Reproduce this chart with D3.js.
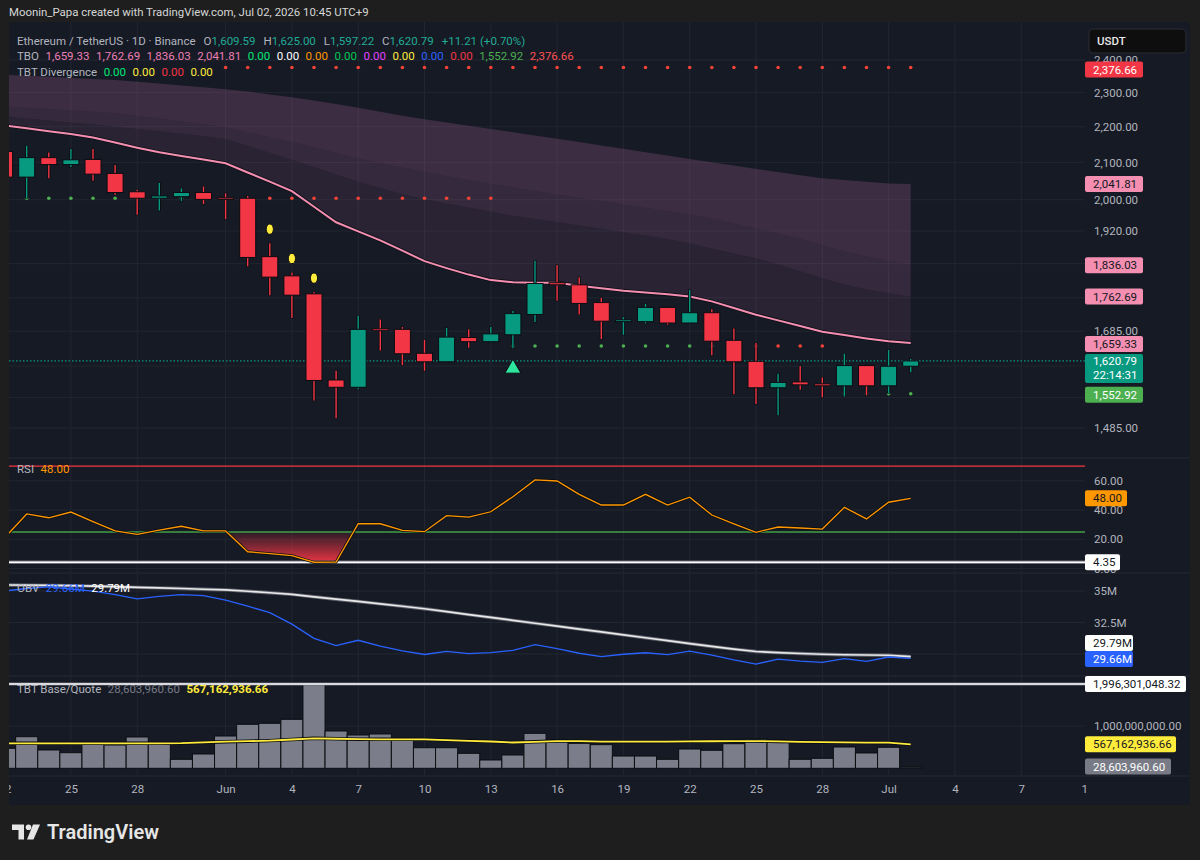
<!DOCTYPE html>
<html>
<head>
<meta charset="utf-8">
<script src="https://cdn.jsdelivr.net/npm/d3@7"></script>
<style>
  body { margin: 0; background: #1e1e1e; overflow: hidden; }
  text { font-family: Roboto, "Noto Sans", sans-serif; }
</style>
</head>
<body>
<script>
// ---- data ----
const dates = [
  '2026-05-22','2026-05-23','2026-05-24','2026-05-25','2026-05-26','2026-05-27','2026-05-28','2026-05-29','2026-05-30','2026-05-31',
  '2026-06-01','2026-06-02','2026-06-03','2026-06-04','2026-06-05','2026-06-06','2026-06-07','2026-06-08','2026-06-09','2026-06-10',
  '2026-06-11','2026-06-12','2026-06-13','2026-06-14','2026-06-15','2026-06-16','2026-06-17','2026-06-18','2026-06-19','2026-06-20',
  '2026-06-21','2026-06-22','2026-06-23','2026-06-24','2026-06-25','2026-06-26','2026-06-27','2026-06-28','2026-06-29','2026-06-30',
  '2026-07-01','2026-07-02'
];
const open  = [2130,2060,2113,2094,2108,2070,2021,2004,2008,2019, 2005,2004,1857,1811,1769,1581,1566,1690,1689,1637,
               1619,1671,1662,1677,1722,1795,1790,1749,1706,1706, 1738,1703,1726,1665,1620,1565,1577,1573,1569,1611, 1569,1609.59];
const high  = [2142,2146,2127,2137,2137,2093,2026,2044,2030,2035, 2017,2010,1890,1819,1773,1600,1719,1711,1694,1666,
               1692,1689,1694,1730,1847,1837,1808,1760,1716,1746, 1739,1778,1734,1691,1659,1594,1610,1586,1636,1612, 1644,1625.00];
const low   = [2050,2004,2057,2087,2050,2013,1961,1972,1997,1989, 1950,1834,1766,1714,1539,1504,1562,1643,1612,1600,
               1618,1649,1660,1648,1705,1753,1722,1668,1677,1702, 1699,1702,1633,1552,1532,1510,1561,1546,1547,1550, 1554,1597.22];
const close = [2060,2113,2094,2107,2068,2019,2004,2010,2019,2001, 2001,1855,1808,1766,1580,1566,1689,1686,1636,1619,
               1672,1662,1679,1724,1793,1790,1747,1707,1710,1738, 1703,1726,1663,1619,1565,1576,1571,1569,1611,1569, 1609.58,1620.79];

// TBO moving averages (fast line + band edges)
const tboFast = [2203.5,2195.5,2187.1,2179.2,2169.3,2154.9,2140.6,2127.8,2117.5,2107.6, 2097.5,2072.5,2047.7,2022.5,1982.0,1942.1,1919.2,1896.8,1871.5,1846.0,
                 1829.4,1814.0,1801.0,1796.1,1795.0,1795.0,1788.0,1781.9,1776.1,1771.9, 1767.8,1762.7,1751.7,1736.7,1721.6,1708.9,1696.2,1683.6,1676.4,1669.0, 1662.7,1659.33];
const tboMid  = [2230.1,2224.0,2218.2,2212.4,2206.3,2200.6,2193.7,2186.9,2180.0,2173.2, 2164.7,2145.3,2126.4,2107.3,2087.1,2066.8,2047.7,2031.2,2014.9,2001.5,
                 1990.6,1979.7,1968.9,1958.9,1950.5,1942.6,1934.0,1925.7,1917.2,1908.7, 1900.5,1889.4,1877.1,1864.9,1852.8,1838.1,1822.1,1806.2,1790.5,1779.3, 1770.1,1762.69];
const tboSlow = [2259.1,2254.9,2251.1,2247.0,2243.2,2239.1,2231.5,2223.4,2215.3,2207.2, 2198.3,2184.3,2170.1,2156.3,2141.7,2126.1,2110.7,2097.7,2086.0,2074.1,
                 2062.8,2052.3,2042.4,2032.6,2022.8,2014.1,2005.4,1996.8,1988.0,1979.2, 1970.4,1962.0,1952.0,1939.3,1926.7,1913.9,1900.5,1885.2,1870.0,1857.8, 1847.2,1836.03];
const tboTop  = [2354.1,2351.1,2348.0,2344.6,2341.6,2338.5,2333.0,2327.3,2321.8,2316.0, 2310.3,2303.1,2294.7,2286.3,2276.2,2265.8,2254.9,2243.5,2231.8,2221.4,
                 2212.1,2202.9,2193.7,2184.3,2174.9,2165.6,2156.3,2147.0,2137.8,2128.1, 2118.6,2109.5,2100.2,2091.2,2081.9,2073.6,2065.2,2056.8,2052.3,2047.7, 2043.2,2041.81];

// support / resistance dots (null = no dot that day)
const _ = null;
const bullDots  = [_,2004,2004,2004,2004,2004,2004,2004,2004,2004, _,_,_,_,_,_,_,_,_,_,
                   _,_,_,1652.7,1652.7,1652.7,1652.7,1652.7,1652.7,1652.7, 1652.7,1652.7,1652.7,_,_,_,_,_,1552.92,1552.92, 1552.92,1552.92];
const bearDots  = [_,_,_,_,_,_,_,_,_,_, 2004,2004,2004,2004,2004,2004,2004,2004,2004,2004,
                   2004,2004,2004,_,_,_,_,_,_,_, _,_,_,1652.7,1652.7,1652.7,1652.7,1652.7,_,_, _,_];
const upperDots = [_,_,_,_,_,_,_,_,_,_, 2376.66,2376.66,2376.66,2376.66,2376.66,2376.66,2376.66,2376.66,2376.66,2376.66,
                   2376.66,2376.66,2376.66,2376.66,2376.66,2376.66,2376.66,2376.66,2376.66,2376.66, 2376.66,2376.66,2376.66,2376.66,2376.66,2376.66,2376.66,2376.66,2376.66,2376.66, 2376.66,2376.66];
const warnDays = ['2026-06-03','2026-06-04','2026-06-05'];
const buyDays  = ['2026-06-14'];

const rsi = [21,37.3,34.7,38.6,32.1,25.7,23.4,26.3,28.9,25.7, 25.7,11.5,10.2,8.8,4.35,4.5,30.6,30.6,26.1,25.2,
             36.1,35.2,38.8,49.1,60.5,59.8,50.7,43.4,43.4,50.7, 43.4,48.7,36.6,30.6,24.8,28.4,27.7,27.0,41.8,33.9, 45.3,48.0];
const rsiLevels = { upper: 70, lower: 25, floor: 4.35 };

const obv       = [35.0,35.2,35.32,35.16,34.99,34.71,34.37,34.57,34.72,34.63, 34.27,33.80,33.28,32.37,31.24,30.67,31.09,30.63,30.25,29.96,
                   30.21,30.03,30.11,30.29,30.75,30.42,30.06,29.79,29.98,30.10, 29.95,30.22,29.91,29.53,29.20,29.60,29.44,29.34,29.64,29.42, 29.76,29.66];
const obvSignal = [35.48,35.46,35.44,35.43,35.39,35.34,35.29,35.25,35.20,35.14, 35.09,34.98,34.86,34.73,34.54,34.35,34.17,33.98,33.79,33.59,
                   33.36,33.13,32.90,32.67,32.44,32.21,31.98,31.75,31.52,31.29, 31.06,30.83,30.60,30.39,30.20,30.11,30.04,29.98,29.94,29.92, 29.90,29.79];

// base/quote volume, millions
const volumeM   = [474,749,434,370,576,552,742,576,213,339, 765,1043,1066,1161,1996.30104832,884,789,813,663,488,
                   488,355,197,315,829,663,592,560,291,291, 213,457,427,583,694,671,213,237,505,363, 498,28.6039606];
const volumeMaM = [592,592,592,592,592,592,592,592,596,613, 630,642,655,683,711,700,689,687,687,686,
                   669,652,635,611,628,646,645,630,630,630, 630,637,641,645,646,636,625,618,614,610, 607,567.16293666];

// grid levels, and the subset whose labels are not hidden behind price tags
const priceGrid   = [2400,2300,2200,2100,2000,1920,1840,1760,1685,1610,1545,1485];
const priceLabels = [2400,2300,2200,2100,2000,1920,1685,1485];
const rsiTicks = [0,20,40,60];
const obvGrid = [30,32.5,35];
const obvLabels = [32.5,35];
const volTicksM = [1000];
const timeTicks  = ['2026-05-22','2026-05-25','2026-05-28','2026-06-01','2026-06-04','2026-06-07','2026-06-10','2026-06-13','2026-06-16',
                    '2026-06-19','2026-06-22','2026-06-25','2026-06-28','2026-07-01','2026-07-04','2026-07-07','2026-07-10'];
const timeLabels = ['22','25','28','Jun','4','7','10','13','16','19','22','25','28','Jul','4','7','10'];

// ---- layout ----
const L = 9, R = 1085, AX = 1190;
const pane = { main: [22, 457], rsi: [459, 572], obv: [574, 675], vol: [677, 775] };
const up = '#089981', down = '#f23645', grid = '#222631', txt = '#b2b5be';
const fmt2 = d3.format(',.2f');
const parse = d3.utcParse('%Y-%m-%d');
const days = dates.map(parse);
const n = days.length;

const svg = d3.select('body').append('svg').attr('width', 1200).attr('height', 860);
const defs = svg.append('defs');
svg.append('rect').attr('width', 1200).attr('height', 860).attr('fill', '#1e1e1e');
svg.append('rect').attr('x', L).attr('y', 22).attr('width', AX - L).attr('height', 783).attr('rx', 3).attr('fill', '#161a25');

const x = d3.scaleUtc().domain([parse('2026-05-22'), parse('2026-07-10')]).range([4.6, 1087.5]);
const step = x(days[1]) - x(days[0]);
const y = d3.scaleLog().domain([1485, 2400]).range([428, 60]);
const yR = d3.scaleLinear().domain([0, 60]).range([568.6, 480.7]);
const yO = d3.scaleLinear().domain([30, 35]).range([654, 591]);
const yV = d3.scaleLinear().domain([0, 1000]).range([768.3, 726.1]);

function clip(id, y0, y1, x0 = L, x1 = R) {
  defs.append('clipPath').attr('id', id).append('rect')
    .attr('x', x0).attr('y', y0).attr('width', x1 - x0).attr('height', y1 - y0);
  return `url(#${id})`;
}

// separators
[458, 573, 676, 776].forEach(v => {
  svg.append('line').attr('x1', L).attr('x2', AX).attr('y1', v).attr('y2', v).attr('stroke', '#242833');
});

// vertical grid
svg.append('g').selectAll('line').data(timeTicks.map(parse).filter(d => x(d) > L && x(d) < R)).join('line')
  .attr('x1', d => x(d)).attr('x2', d => x(d)).attr('y1', 22).attr('y2', 775).attr('stroke', grid);

function hgrid(ticks, scale) {
  svg.append('g').selectAll('line').data(ticks).join('line')
    .attr('x1', L).attr('x2', R).attr('y1', d => scale(d)).attr('y2', d => scale(d)).attr('stroke', grid);
}
hgrid(priceGrid, y); hgrid(rsiTicks, yR); hgrid(obvGrid, yO); hgrid(volTicksM, yV);

// ---- main pane ----
const main = svg.append('g').attr('clip-path', clip('cMain', pane.main[0], pane.main[1]));
const idx = d3.range(n);

const band = (lo, hi) => d3.area().x(i => x(days[i])).y0(i => y(lo[i])).y1(i => y(hi[i]));
main.append('path').attr('d', band(tboFast, tboMid)(idx)).attr('fill', 'rgba(170,100,150,0.13)');
main.append('path').attr('d', band(tboMid, tboSlow)(idx)).attr('fill', 'rgba(190,110,165,0.19)');
main.append('path').attr('d', band(tboSlow, tboTop)(idx)).attr('fill', 'rgba(190,110,165,0.23)');

const fastLine = d3.line().x(i => x(days[i])).y(i => y(tboFast[i]));
main.append('path').attr('d', fastLine(idx)).attr('fill', 'none').attr('stroke', '#0d0f15').attr('stroke-width', 3.6);
main.append('path').attr('d', fastLine(idx)).attr('fill', 'none').attr('stroke', '#f48fb1').attr('stroke-width', 2);

// current price line
main.append('line').attr('x1', L).attr('x2', R).attr('y1', y(close[n - 1])).attr('y2', y(close[n - 1]))
  .attr('stroke', up).attr('stroke-dasharray', '1.5,2').attr('stroke-width', 1.2);

// dots
function dots(arr, color) {
  main.append('g').selectAll('circle').data(idx.filter(i => arr[i] != null)).join('circle')
    .attr('cx', i => x(days[i])).attr('cy', i => y(arr[i])).attr('r', 1.8).attr('fill', color);
}
dots(upperDots, '#f44336');
dots(bullDots, '#4caf50');
dots(bearDots, '#f44336');

// candles
const candles = idx.map(i => ({ t: days[i], o: open[i], h: high[i], l: low[i], c: close[i] }));
const cg = main.append('g');
cg.selectAll('line.sh').data(candles).join('line')
  .attr('x1', d => x(d.t)).attr('x2', d => x(d.t)).attr('y1', d => y(d.h) - 0.5).attr('y2', d => y(d.l) + 0.5)
  .attr('stroke', '#0b0d12').attr('stroke-width', 3.2);
cg.selectAll('line.wk').data(candles).join('line')
  .attr('x1', d => x(d.t)).attr('x2', d => x(d.t)).attr('y1', d => y(d.h)).attr('y2', d => y(d.l))
  .attr('stroke', d => d.c >= d.o ? up : down).attr('stroke-width', 1.4);
cg.selectAll('rect').data(candles).join('rect')
  .attr('x', d => x(d.t) - 8).attr('width', 16)
  .attr('y', d => y(Math.max(d.o, d.c)))
  .attr('height', d => Math.max(1.5, y(Math.min(d.o, d.c)) - y(Math.max(d.o, d.c))))
  .attr('fill', d => d.c >= d.o ? up : down).attr('stroke', '#0b0d12').attr('stroke-width', 1);

// divergence warnings
main.append('g').selectAll('ellipse').data(warnDays.map(d => dates.indexOf(d))).join('ellipse')
  .attr('cx', i => x(days[i])).attr('cy', i => y(high[i]) - 14).attr('rx', 3.6).attr('ry', 5.2)
  .attr('fill', '#ffeb3b').attr('stroke', '#0b0d12').attr('stroke-width', 1);
// buy signal
main.append('g').selectAll('path').data(buyDays.map(d => dates.indexOf(d))).join('path')
  .attr('d', i => { const cx = x(days[i]), cy = y(low[i]) + 18; return `M${cx},${cy - 7}L${cx + 8},${cy + 7}L${cx - 8},${cy + 7}Z`; })
  .attr('fill', '#2ee59d').attr('stroke', '#0b0d12').attr('stroke-width', 1);

// ---- RSI pane ----
const rp = svg.append('g').attr('clip-path', clip('cRsi', pane.rsi[0], pane.rsi[1]));
const grad = defs.append('linearGradient').attr('id', 'osGrad').attr('gradientUnits', 'userSpaceOnUse')
  .attr('x1', 0).attr('x2', 0).attr('y1', yR(rsiLevels.lower)).attr('y2', yR(rsiLevels.floor));
grad.append('stop').attr('offset', 0).attr('stop-color', '#f23645').attr('stop-opacity', 0.08);
grad.append('stop').attr('offset', 1).attr('stop-color', '#f23645').attr('stop-opacity', 0.95);
const osClip = clip('cOs', yR(rsiLevels.lower), pane.rsi[1]);
rp.append('path').attr('clip-path', osClip)
  .attr('d', d3.area().x(i => x(days[i])).y0(yR(rsiLevels.lower)).y1(i => yR(rsi[i]))(idx))
  .attr('fill', 'url(#osGrad)');
rp.append('line').attr('x1', L).attr('x2', R).attr('y1', yR(rsiLevels.upper)).attr('y2', yR(rsiLevels.upper)).attr('stroke', '#f23645').attr('stroke-width', 1.3);
rp.append('line').attr('x1', L).attr('x2', R).attr('y1', yR(rsiLevels.lower)).attr('y2', yR(rsiLevels.lower)).attr('stroke', '#43a047').attr('stroke-width', 1.3);
rp.append('line').attr('x1', L).attr('x2', R).attr('y1', yR(rsiLevels.floor)).attr('y2', yR(rsiLevels.floor)).attr('stroke', '#6a6d78').attr('stroke-width', 3.4);
rp.append('line').attr('x1', L).attr('x2', R).attr('y1', yR(rsiLevels.floor)).attr('y2', yR(rsiLevels.floor)).attr('stroke', '#ffffff').attr('stroke-width', 1.6);
const rsiLine = d3.line().x(i => x(days[i])).y(i => yR(rsi[i]));
rp.append('path').attr('d', rsiLine(idx)).attr('fill', 'none').attr('stroke', '#0b0d12').attr('stroke-width', 2.8);
rp.append('path').attr('d', rsiLine(idx)).attr('fill', 'none').attr('stroke', '#ff9800').attr('stroke-width', 1.3);

// ---- OBV pane ----
const op = svg.append('g').attr('clip-path', clip('cObv', pane.obv[0], pane.obv[1]));
const sigLine = d3.line().x(i => x(days[i])).y(i => yO(obvSignal[i]));
op.append('path').attr('d', sigLine(idx)).attr('fill', 'none').attr('stroke', '#5d606b').attr('stroke-width', 3.4);
op.append('path').attr('d', sigLine(idx)).attr('fill', 'none').attr('stroke', '#e8e8e8').attr('stroke-width', 1.7);
op.append('path').attr('d', d3.line().x(i => x(days[i])).y(i => yO(obv[i]))(idx))
  .attr('fill', 'none').attr('stroke', '#2962ff').attr('stroke-width', 1.3);

// ---- volume pane ----
const vp = svg.append('g').attr('clip-path', clip('cVol', pane.vol[0], pane.vol[1]));
vp.selectAll('rect').data(idx).join('rect')
  .attr('x', i => x(days[i]) - step / 2).attr('width', step)
  .attr('y', i => yV(volumeM[i])).attr('height', i => yV(0) - yV(volumeM[i]))
  .attr('fill', '#7b7e8a').attr('stroke', '#0b0d12').attr('stroke-width', 1);
const volMax = d3.max(volumeM);
vp.append('line').attr('x1', L).attr('x2', R).attr('y1', yV(volMax)).attr('y2', yV(volMax)).attr('stroke', '#6a6d78').attr('stroke-width', 3);
vp.append('line').attr('x1', L).attr('x2', R).attr('y1', yV(volMax)).attr('y2', yV(volMax)).attr('stroke', '#ffffff').attr('stroke-width', 1.4);
const maLine = d3.line().x(i => x(days[i])).y(i => yV(volumeMaM[i]));
vp.append('path').attr('d', maLine(idx)).attr('fill', 'none').attr('stroke', '#0b0d12').attr('stroke-width', 3.4);
vp.append('path').attr('d', maLine(idx)).attr('fill', 'none').attr('stroke', '#ffeb3b').attr('stroke-width', 1.8);

// ---- axes ----
function rightAxis(scale, ticks, format) {
  const g = svg.append('g').attr('transform', `translate(${R},0)`)
    .call(d3.axisRight(scale).tickValues(ticks).tickFormat(format).tickSize(0).tickPadding(9));
  g.select('.domain').remove();
  g.selectAll('text').attr('fill', txt).attr('font-size', 11.5).attr('font-family', 'Roboto, sans-serif');
}
rightAxis(y, priceLabels, fmt2);
rightAxis(yR, rsiTicks, d3.format('.2f'));
rightAxis(yO, obvLabels, d => d + 'M');
rightAxis(yV, volTicksM, d => fmt2(d * 1e6));

const xaWrap = svg.append('g').attr('clip-path', clip('cTime', 776, 805, L, 1088));
const xa = xaWrap.append('g').attr('transform', 'translate(0,776)')
  .call(d3.axisBottom(x).tickValues(timeTicks.map(parse)).tickFormat((d, i) => timeLabels[i]).tickSize(0).tickPadding(9));
xa.select('.domain').remove();
xa.selectAll('text').attr('fill', txt).attr('font-size', 11.5).attr('font-family', 'Roboto, sans-serif');

// price tags
function tag(cy, label, bg, fg, w, h = 16) {
  svg.append('rect').attr('x', R).attr('y', cy - h / 2).attr('width', w).attr('height', h).attr('rx', 2).attr('fill', bg);
  svg.append('text').attr('x', R + 8).attr('y', cy).attr('dy', '0.35em').attr('fill', fg).attr('font-size', 11.5).text(label);
}
const last = n - 1;
tag(Math.max(y(upperDots[last]), 69.5), fmt2(upperDots[last]), '#f23645', '#ffffff', 58);
tag(y(tboTop[last]), fmt2(tboTop[last]), '#f48fb1', '#131722', 58);
tag(y(tboSlow[last]), fmt2(tboSlow[last]), '#f48fb1', '#131722', 58);
tag(y(tboMid[last]), fmt2(tboMid[last]), '#f48fb1', '#131722', 58);
tag(y(tboFast[last]) + 1, fmt2(tboFast[last]), '#f48fb1', '#131722', 58);
tag(y(bullDots[last]) + 1, fmt2(bullDots[last]), '#4caf50', '#ffffff', 58);
{
  const cy = y(close[last]);
  svg.append('rect').attr('x', R).attr('y', cy - 7).attr('width', 58).attr('height', 29).attr('rx', 2).attr('fill', up);
  svg.append('text').attr('x', R + 8).attr('y', cy).attr('dy', '0.35em').attr('fill', '#fff').attr('font-size', 11.5).text(fmt2(close[last]));
  svg.append('text').attr('x', R + 8).attr('y', cy + 14.5).attr('dy', '0.35em').attr('fill', '#fff').attr('font-size', 11.5).text('22:14:31');
}
tag(yR(rsi[last]), d3.format('.2f')(rsi[last]), '#ff9800', '#131722', 42);
tag(yR(rsiLevels.floor), d3.format('.2f')(rsiLevels.floor), '#ffffff', '#131722', 35);
tag(643, obvSignal[last].toFixed(2) + 'M', '#ffffff', '#131722', 48);
tag(659, obv[last].toFixed(2) + 'M', '#2962ff', '#ffffff', 48);
tag(yV(volMax), fmt2(volMax * 1e6), '#ffffff', '#131722', 101);
tag(yV(volumeMaM[last]), fmt2(volumeMaM[last] * 1e6), '#ffeb3b', '#131722', 91);
tag(766.5, fmt2(volumeM[last] * 1e6), '#787b86', '#ffffff', 86);

// currency box
svg.append('rect').attr('x', 1089).attr('y', 29).attr('width', 97).attr('height', 24).attr('rx', 4).attr('fill', '#0e0e0f').attr('stroke', '#2a2c33');
svg.append('text').attr('x', 1097).attr('y', 41).attr('dy', '0.35em').attr('fill', '#e8e8e8').attr('font-size', 11.5).attr('font-weight', 500).text('USDT');

// ---- legends ----
function legend(x0, y0, parts, size = 11.5) {
  const t = svg.append('text').attr('x', x0).attr('y', y0).attr('dy', '0.35em').attr('font-size', size);
  parts.forEach(([s, c, dx = 6.5, w = 400]) => t.append('tspan').attr('dx', dx).attr('fill', c).attr('font-weight', w).text(s));
}
const g = '#22ab94';
const chg = close[last] - close[last - 1];
svg.append('text').attr('x', 9).attr('y', 12).attr('dy', '0.35em').attr('fill', '#d6d6d6').attr('font-size', 11.4)
  .text('Moonin_Papa created with TradingView.com, Jul 02, 2026 10:45 UTC+9');
legend(17, 40.5, [['Ethereum / TetherUS · 1D · Binance', txt, 0], ['O', txt, 8], [fmt2(open[last]), g, 0], ['H', txt, 8], [fmt2(high[last]), g, 0],
  ['L', txt, 8], [fmt2(low[last]), g, 0], ['C', txt, 8], [fmt2(close[last]), g, 0],
  [`+${fmt2(chg)} (+${(chg / close[last - 1] * 100).toFixed(2)}%)`, g, 8]]);
legend(17, 56, [['TBO', txt, 0], [fmt2(tboFast[last]), '#ec7fb4'], [fmt2(tboMid[last]), '#ec7fb4'], [fmt2(tboSlow[last]), '#ec7fb4'],
  [fmt2(tboTop[last]), '#ec7fb4'], ['0.00', '#00e676'], ['0.00', '#ffffff'], ['0.00', '#ff9800'], ['0.00', '#00c853'], ['0.00', '#e040fb'],
  ['0.00', '#ffeb3b'], ['0.00', '#2962ff'], ['0.00', '#f23645'], [fmt2(bullDots[last]), '#4caf50'], [fmt2(upperDots[last]), '#ff5252']]);
legend(17, 72, [['TBT Divergence', txt, 0], ['0.00', '#00e676'], ['0.00', '#ffeb3b'], ['0.00', '#f23645'], ['0.00', '#ffeb3b']]);
legend(17, 469, [['RSI', txt, 0], [d3.format('.2f')(rsi[last]), '#ff9800']]);
legend(17, 588, [['OBV', txt, 0], [obv[last].toFixed(2) + 'M', '#2962ff'], [obvSignal[last].toFixed(2) + 'M', '#ffffff']]);
legend(17, 689, [['TBT Base/Quote', txt, 0], [fmt2(volumeM[last] * 1e6), '#787b86'], [fmt2(volumeMaM[last] * 1e6), '#ffeb3b', 6.5, 700]]);

// ---- footer logo ----
const logo = svg.append('g').attr('fill', '#e6e6e6');
logo.append('path').attr('d', 'M12,824.5h12v15h-5.5v-9.5h-6.5z');
logo.append('circle').attr('cx', 28.5).attr('cy', 827.3).attr('r', 2.8);
logo.append('path').attr('d', 'M33,824.5h7l-6.5,15h-6.5z');
svg.append('text').attr('x', 47).attr('y', 832).attr('dy', '0.35em').attr('fill', '#e6e6e6')
  .attr('font-size', 20).attr('font-weight', 600).text('TradingView');
</script>
</body>
</html>
